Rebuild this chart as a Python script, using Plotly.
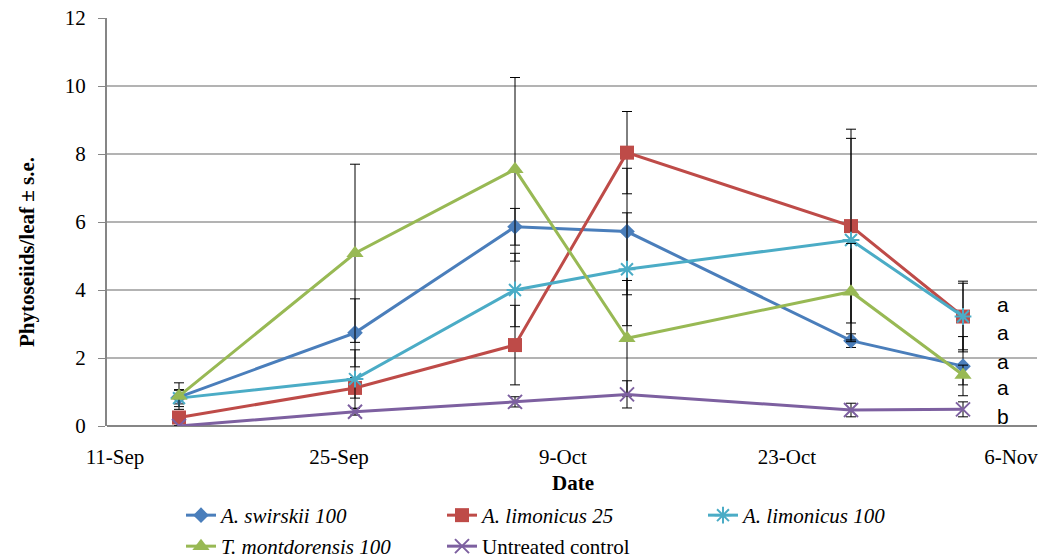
import plotly.graph_objects as go

dates = ["2013-09-15", "2013-09-26", "2013-10-06", "2013-10-13", "2013-10-27", "2013-11-03"]

names = ["<i>A. swirskii 100</i>", "<i>A. limonicus 25</i>", "<i>A. limonicus 100</i>",
         "<i>T. montdorensis 100</i>", "Untreated control"]

swirskii_100 = [0.85, 2.74, 5.86, 5.72, 2.51, 1.76]
swirskii_100_se = [0.20, 1.00, 0.54, 1.86, 0.20, 0.87]
limonicus_25 = [0.25, 1.12, 2.38, 8.04, 5.88, 3.22]
limonicus_25_se = [0.10, 0.30, 1.17, 1.21, 2.85, 1.04]
limonicus_100 = [0.82, 1.38, 4.00, 4.61, 5.47, 3.22]
limonicus_100_se = [0.25, 0.86, 1.08, 1.66, 2.99, 0.98]
montdorensis_100 = [0.88, 5.08, 7.55, 2.58, 3.95, 1.50]
montdorensis_100_se = [0.39, 2.62, 2.70, 1.70, 1.42, 0.29]
control = [0.00, 0.42, 0.71, 0.93, 0.47, 0.49]
control_se = [0.00, 0.10, 0.15, 0.40, 0.20, 0.22]

tick_dates = ["2013-09-11", "2013-09-25", "2013-10-09", "2013-10-23", "2013-11-06"]
tick_labels = ["11-Sep", "25-Sep", "9-Oct", "23-Oct", "6-Nov"]
y_ticks = [0, 2, 4, 6, 8, 10, 12]
letters = ["a", "a", "a", "a", "b"]
letter_y = [3.56, 2.76, 1.91, 1.12, 0.29]

values = [swirskii_100, limonicus_25, limonicus_100, montdorensis_100, control]
errors = [swirskii_100_se, limonicus_25_se, limonicus_100_se, montdorensis_100_se, control_se]
colors = ["#4A7EBB", "#BE4B48", "#4BACC6", "#98B954", "#7D60A0"]
symbols = ["diamond", "square", "asterisk-open", "triangle-up", "x-thin-open"]
sizes = [12, 14, 14, 15, 14]
legends = ["legend", "legend", "legend", "legend2", "legend2"]

SERIF = "Liberation Serif"
FS = 21

# plot area in page pixels (the page adds an 8px body margin)
PL, PR, PT, PB = 107, 1037, 18, 426
PW, PH = PR - PL, PB - PT

def px(x):
    return (x - PL) / PW

def py(y):
    return (PB - y) / PH

fig = go.Figure()
for name, v, e, c, s, sz, lg in zip(names, values, errors, colors, symbols, sizes, legends):
    marker = dict(symbol=s, size=sz, color=c)
    if s in ("asterisk-open", "x-thin-open"):
        marker["line"] = dict(color=c, width=2)
    fig.add_trace(go.Scatter(
        x=dates, y=v, name=name, mode="lines+markers",
        line=dict(color=c, width=3), marker=marker,
        error_y=dict(type="data", array=e, visible=True, color="black", thickness=1, width=5),
        legend=lg,
    ))

for t, ly in zip(letters, letter_y):
    fig.add_annotation(x=px(995), xref="paper", y=ly, yref="y", text=t, showarrow=False,
                       font=dict(family="Liberation Sans", size=21, color="black"),
                       xanchor="left", yanchor="middle")

fig.add_annotation(x=px(573), xref="paper", y=py(483), yref="paper", xanchor="center", yanchor="middle",
                   text="<b>Date</b>", showarrow=False, font=dict(family=SERIF, size=FS, color="black"))
fig.add_annotation(x=px(27), xref="paper", y=py(252), yref="paper", xanchor="center", yanchor="middle",
                   text="<b>Phytoseiids/leaf ± s.e.</b>", textangle=-90, showarrow=False,
                   font=dict(family=SERIF, size=FS, color="black"))

legend_font = dict(family=SERIF, size=FS, color="black")
fig.update_layout(
    width=1039, height=552,
    margin=dict(l=PL - 8, r=1039 - (PR - 8), t=PT - 8, b=552 - (PB - 8), autoexpand=False),
    plot_bgcolor="white", paper_bgcolor="white",
    font=dict(family=SERIF, size=FS, color="black"),
    legend=dict(orientation="h", x=px(181), xanchor="left", y=py(495), yanchor="top",
                entrywidth=216, entrywidthmode="pixels", font=legend_font, bgcolor="rgba(0,0,0,0)"),
    legend2=dict(orientation="h", x=px(181), xanchor="left", y=py(526), yanchor="top",
                 entrywidth=216, entrywidthmode="pixels", font=legend_font, bgcolor="rgba(0,0,0,0)"),
    xaxis=dict(type="date", range=["2013-09-10 12:00", "2013-11-07 15:00"],
               tickvals=tick_dates, ticktext=tick_labels, automargin=False,
               showgrid=False, zeroline=False, showline=False,
               ticks="outside", ticklen=12, tickcolor="rgba(0,0,0,0)",
               tickfont=dict(family=SERIF, size=FS, color="black")),
    yaxis=dict(range=[0, 12.0005], tickmode="array", tickvals=y_ticks,
               showgrid=True, gridcolor="#B3B3B3", gridwidth=1.5,
               zeroline=True, zerolinecolor="#868686", zerolinewidth=2, automargin=False,
               showline=True, linecolor="#868686", linewidth=2, ticklabeloverflow="allow",
               ticks="outside", ticklen=7, tickcolor="#868686", ticklabelstandoff=8,
               tickfont=dict(family=SERIF, size=FS, color="black")),
)

fig.write_html("out.html")
